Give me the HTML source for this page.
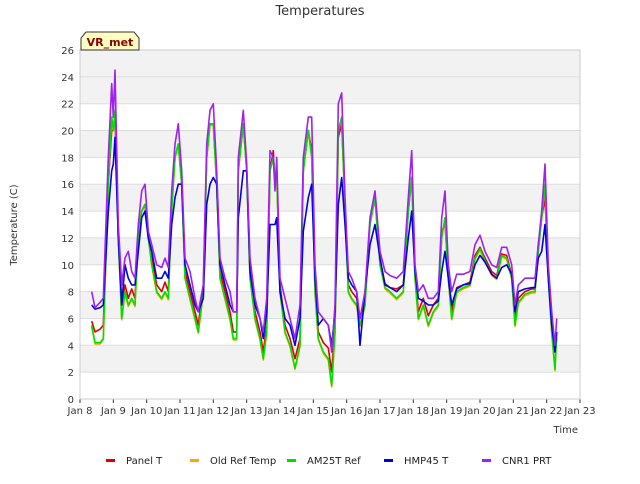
<!DOCTYPE html>
<html><head><meta charset="utf-8"><style>
body{margin:0;background:#fff;font-family:"DejaVu Sans","Liberation Sans",sans-serif;}
svg text{font-family:"DejaVu Sans","Liberation Sans",sans-serif;}
</style></head><body>
<svg id="chart" width="640" height="480">
<text x="320" y="15" text-anchor="middle" font-size="13" fill="#333">Temperatures</text>
<g id="plot"></g>
</svg>
<script>
const times=[8.35,8.45,8.6,8.7,8.85,8.95,9.0,9.05,9.15,9.25,9.35,9.45,9.55,9.65,9.75,9.85,9.95,10.05,10.15,10.3,10.45,10.55,10.65,10.75,10.85,10.95,11.05,11.15,11.3,11.45,11.55,11.7,11.8,11.9,12.0,12.1,12.2,12.35,12.5,12.6,12.7,12.75,12.9,13.0,13.1,13.25,13.4,13.5,13.6,13.7,13.8,13.85,13.9,14.0,14.15,14.3,14.45,14.6,14.7,14.85,14.95,15.05,15.15,15.3,15.45,15.55,15.65,15.75,15.85,15.95,16.05,16.15,16.3,16.4,16.55,16.7,16.85,17.0,17.15,17.3,17.5,17.7,17.85,17.95,18.05,18.15,18.3,18.45,18.6,18.75,18.85,18.95,19.05,19.15,19.3,19.5,19.7,19.85,20.0,20.15,20.35,20.5,20.65,20.8,20.95,21.05,21.15,21.35,21.55,21.65,21.75,21.85,21.95,22.05,22.15,22.25,22.3];
const am25t=[5.5,4.2,4.2,4.5,16,21,20,21.5,12,6,8,7,7.5,7,12,14,14.5,12,10,8,7.5,8,7.5,14,18,19,16,9,7.5,6,5,8,18,20.5,20.5,16,9,7.5,6,4.5,4.5,17,20.5,17,9,6,4.5,3,5,17,18,16,17,8,5,4,2.3,4,17,20,18,8,4.5,3.5,3,1,5,20,21,14,8,7.5,7,5.5,7,13,15,10,8.3,8,7.5,8,14,16.5,9,6,7,5.5,6.5,7,12,13.5,9,6,8,8.3,8.5,10.5,11.2,10.3,9.3,9,10.7,10.5,9,5.5,7.2,7.8,8,8,11,13.5,16,9,5,2.2,5];
const oldRef=[5.4,4.1,4.1,4.4,16,21,20,21.4,12,5.9,7.9,6.9,7.4,6.9,12,14,14.4,12,10,7.9,7.4,7.9,7.4,14,18,19,16,9,7.4,5.9,4.9,7.9,18,20.4,20.4,16,9,7.4,5.9,4.4,4.4,17,20.4,17,9,5.9,4.4,2.9,4.9,17,18,16,17,7.9,4.9,3.9,2.2,3.9,17,20,18,7.9,4.4,3.4,2.9,0.9,4.9,20,21,14,7.9,7.4,6.9,5.4,6.9,13,15,10,8.2,7.9,7.4,7.9,14,16.5,9,5.9,6.9,5.4,6.4,6.9,12,13.5,9,5.9,7.9,8.2,8.4,10.4,11.1,10.2,9.2,8.9,10.6,10.4,8.9,5.4,7.1,7.7,7.9,7.9,11,13.5,16,9,4.9,2.1,4.9];
const panelT=[5.8,5,5.2,5.5,16,20,20,21,12,7,8.5,7.5,8.2,7.5,12.5,14,14.5,12,10.5,8.5,8,8.7,8,14.5,18,19,16,9.5,8,6.5,5.5,8.5,18,20.5,20.5,16,9.5,8,6.5,5,5,17,20.5,17,9.5,6.5,5,3.5,5.5,17,18.5,16,17,8.5,5.5,4.5,3,4.5,17,20,18.5,8.5,5,4.2,3.8,2,5.5,19.5,20.5,14.5,8.5,8,7.5,6,7.5,13.2,15,10.3,8.6,8.3,8.2,8.5,14,16.5,9.5,6.5,7.5,6.2,7,7.5,12.5,13,9.3,6.5,8.3,8.5,8.7,10.7,11.3,10.5,9.5,9.2,10.8,10.7,9.2,6,7.5,8,8.2,8.2,11.5,13.5,15,9.3,5.5,3.5,4.5];
const hmp45=[7,6.7,6.8,7,14,17,17.5,19.5,12,7,10,9,8.5,8.5,11,13.5,14,12,11,9,9,9.5,9,13,15,16,16,10,8.5,7,6.5,7.5,14.5,16,16.5,16,10,8.5,7,6.5,6.5,13.5,17,17,9.5,7,6,4.5,6.5,13,13,13,13.5,8,6,5.5,4,6,12.5,15,16,9,5.5,6,5.5,4,6.5,14.5,16.5,13,9,8.5,8,4,8,11.5,13,10.5,8.5,8.3,8,8.5,12,14,9.5,7.5,7.3,7,7,7.3,9.5,11,9,7,8.2,8.5,8.6,10,10.7,10.2,9.3,9,9.8,10,9.3,6.5,8,8.2,8.3,8.3,10.5,11,13,9,5.5,3.5,5];
const cnr1=[8,6.8,7.2,7.5,18,23.5,21,24.5,13,8.5,10.5,11,9.5,9,13,15.5,16,12.5,11.5,10,9.8,10.5,9.8,15.5,19,20.5,17,10.5,9.5,7.5,6.5,8.5,19,21.5,22,17,10.5,9,8,6.5,6.5,18,21.5,17.5,10.5,7.5,6,5,7.5,18.5,18,15.5,18,9,7.5,6,4.5,7,18,21,21,10,6.5,6,5.5,3.5,7,22,22.8,15,9.5,9,8,6,8,13.5,15.5,11,9.5,9.2,9,9.5,15,18.5,10,8,8.5,7.5,7.5,8,13.5,15.5,10,8,9.3,9.3,9.5,11.5,12.2,11,10,9.8,11.3,11.3,10,7,8.5,9,9,9,11.5,14,17.5,10,6.5,4,6];
const series=[["Panel T","#e00000",panelT],["Old Ref Temp","#ffa500",oldRef],["AM25T Ref","#00e000",am25t],["HMP45 T","#0000e0",hmp45],["CNR1 PRT","#a020f0",cnr1]];
const xTicks=["Jan 8","Jan 9","Jan 10","Jan 11","Jan 12","Jan 13","Jan 14","Jan 15","Jan 16","Jan 17","Jan 18","Jan 19","Jan 20","Jan 21","Jan 22","Jan 23"];
const yTicks=[0,2,4,6,8,10,12,14,16,18,20,22,24,26];
const L=80,R=580,T=50,B=399;
const xs=d=>L+(d-8)/15*(R-L);
const ys=v=>B-v/26*(B-T);
const NS="http://www.w3.org/2000/svg";
const g=document.getElementById('plot');
function el(tag,a,p){const e=document.createElementNS(NS,tag);for(const k in a)e.setAttribute(k,a[k]);(p||g).appendChild(e);return e;}
const bg=el('rect',{x:L,y:T,width:R-L,height:B-T,fill:'#fff'});


for(let i=0;i<yTicks.length-1;i+=2){
 const b=el('rect',{x:L,y:ys(yTicks[i+2]===undefined?26:yTicks[i]+4),width:R-L,height:ys(yTicks[i]+2)-ys(yTicks[i]+4),fill:'#f2f2f2'});
 
 
}
yTicks.forEach(v=>{
 const ln=el('line',{x1:L,x2:R,y1:ys(v),y2:ys(v),stroke:'#dcdcdc','stroke-width':1});
 
 
 const t=el('text',{x:L-6,y:ys(v)+4,'text-anchor':'end','font-size':10,fill:'#333'});t.textContent=v;
 
 
});
xTicks.forEach((s,i)=>{
 const x=xs(8+i);
 el('line',{x1:x,x2:x,y1:B,y2:B+4,stroke:'#333'});
 const t=el('text',{x:x,y:B+15,'text-anchor':'middle','font-size':10,fill:'#333'});t.textContent=s;
 
 
});
el('rect',{x:L,y:T,width:R-L,height:B-T,fill:'none',stroke:'#ccc'});
series.forEach(s=>{
 const p=el('polyline',{points:times.map((d,i)=>xs(d).toFixed(1)+','+ys(s[2][i]).toFixed(1)).join(' '),fill:'none',stroke:s[1],'stroke-width':1.6,'stroke-linejoin':'round'});
 
 
});
const yt=el('text',{x:17,y:225,'text-anchor':'middle','font-size':10,fill:'#333',transform:'rotate(-90 17 225)'});yt.textContent='Temperature (C)';


const xt=el('text',{x:578,y:433,'text-anchor':'end','font-size':10,fill:'#333'});xt.textContent='Time';


const bx=el('path',{d:'M81,50 L81,38 L86,32 L134,32 L139,38 L139,50 Z',fill:'#ffffc0',stroke:'#333'});


const bt=el('text',{x:110,y:46,'text-anchor':'middle','font-size':11,'font-weight':'bold',fill:'#8b0000'});bt.textContent='VR_met';


const lx=[106,190,287,384,482];
series.forEach((s,i)=>{
 const r=el('rect',{x:lx[i],y:459,width:9,height:3,fill:s[1]});
 
 
 const t=el('text',{x:lx[i]+20,y:464,'font-size':10,fill:'#222'});t.textContent=s[0];
 
 
});
</script>
</body></html>
